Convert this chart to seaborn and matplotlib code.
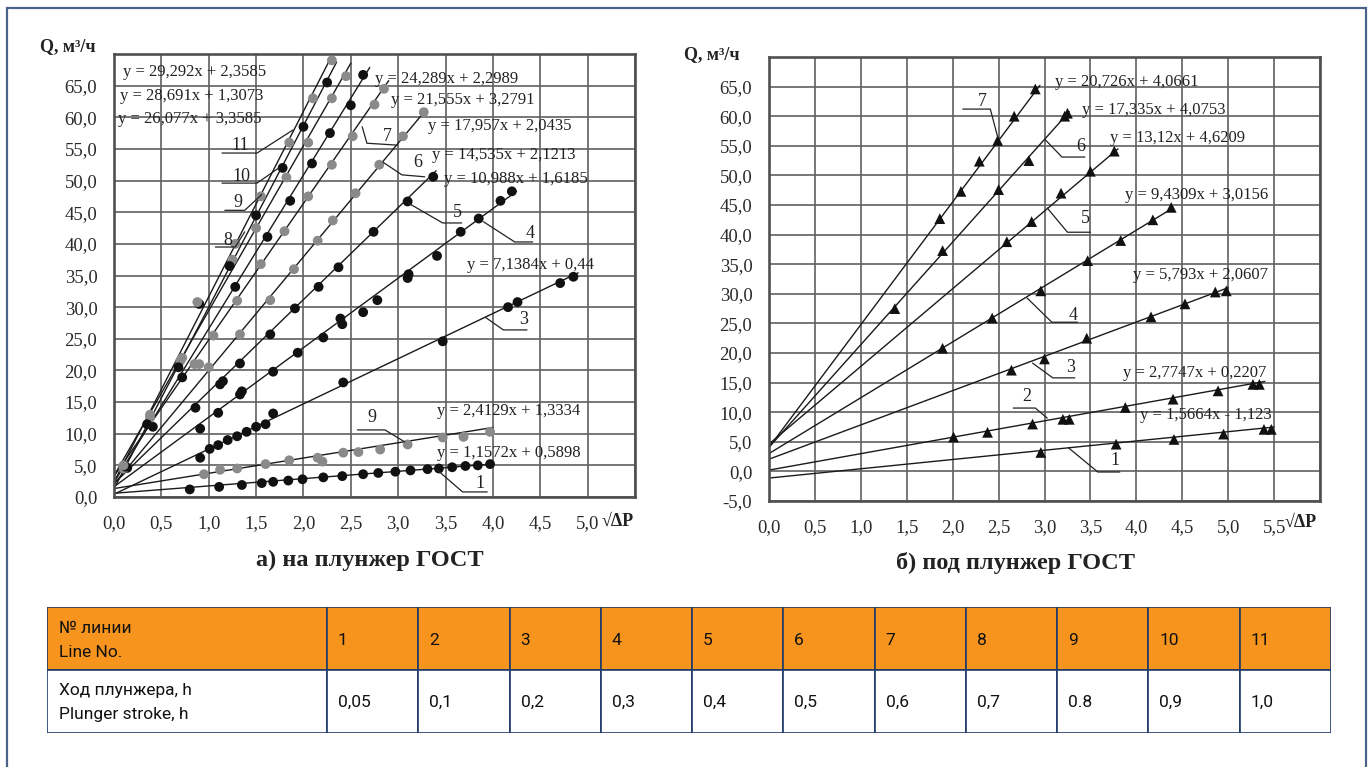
import numpy as np
import pandas as pd
import matplotlib
matplotlib.use("Agg")
import matplotlib.pyplot as plt
import seaborn as sns
from matplotlib.patches import Rectangle
from matplotlib.ticker import FuncFormatter

# ---------------- data: (a) на плунжер ГОСТ ----------------
a_slopes = [1.1572, 2.4129, 7.1384, 10.988, 14.535, 17.957, 21.555, 24.289, 26.077, 28.691, 29.292]
a_inter = [0.5898, 1.3334, 0.44, 1.6185, 2.1213, 2.0435, 3.2791, 2.2989, 3.3585, 1.3073, 2.3585]
a_eq_text = ["y = 1,1572x + 0,5898", "y = 2,4129x + 1,3334", "y = 7,1384x + 0,44",
             "y = 10,988x + 1,6185", "y = 14,535x + 2,1213", "y = 17,957x + 2,0435",
             "y = 21,555x + 3,2791", "y = 24,289x + 2,2989", "y = 26,077x + 3,3585",
             "y = 28,691x + 1,3073", "y = 29,292x + 2,3585"]
a_xend = [4.0, 4.0, 4.9, 4.25, 3.4, 3.3, 2.9, 2.7, 2.5, 2.35, 2.3]

a1_x = [0.8, 1.11, 1.35, 1.56, 1.68, 1.84, 1.99, 2.21, 2.41, 2.63, 2.79, 2.97, 3.13, 3.31, 3.43, 3.57, 3.71, 3.84, 3.97]
a1_y = [1.2, 1.6, 1.9, 2.2, 2.4, 2.6, 2.8, 3.1, 3.3, 3.6, 3.8, 4.0, 4.2, 4.4, 4.5, 4.7, 4.9, 5.0, 5.2]
a2_x = [0.95, 1.12, 1.3, 1.6, 1.85, 2.15, 2.2, 2.42, 2.58, 2.81, 3.1, 3.47, 3.69, 3.97]
a2_y = [3.6, 4.3, 4.5, 5.2, 5.8, 6.2, 5.6, 7.0, 7.1, 7.5, 8.3, 9.4, 9.5, 10.3]
a3_x = [0.91, 1.01, 1.1, 1.2, 1.3, 1.4, 1.5, 1.6, 1.68, 2.42, 3.47, 4.16, 4.26, 4.71, 4.85]
a3_y = [6.2, 7.6, 8.2, 9.0, 9.6, 10.3, 11.1, 11.5, 13.2, 18.1, 24.6, 30.0, 30.8, 33.8, 34.8]
a4_x = [0.91, 1.1, 1.33, 1.35, 1.68, 1.94, 2.21, 2.39, 2.41, 2.63, 2.78, 3.1, 3.11, 3.41, 3.66, 3.85, 4.08, 4.2]
a4_y = [10.8, 13.3, 16.2, 16.7, 19.8, 22.8, 25.2, 28.2, 27.3, 29.2, 31.1, 34.6, 35.2, 38.1, 41.9, 44.0, 46.8, 48.3]
a5_x = [0.86, 1.12, 1.15, 1.33, 1.65, 1.91, 2.16, 2.37, 2.74, 3.1, 3.37]
a5_y = [14.1, 17.8, 18.3, 21.1, 25.7, 29.8, 33.2, 36.3, 41.9, 46.7, 50.6]
a6_x = [1.0, 1.33, 1.65, 1.9, 2.15, 2.31, 2.55, 2.8, 3.05, 3.27]
a6_y = [20.5, 25.7, 31.1, 36.0, 40.5, 43.7, 48.0, 52.5, 57.0, 60.8]
a7_x = [0.85, 1.05, 1.3, 1.55, 1.8, 2.05, 2.3, 2.52, 2.75, 2.85]
a7_y = [21.0, 25.5, 31.0, 36.8, 42.0, 47.5, 52.5, 57.0, 62.0, 64.5]
a8_x = [0.14, 0.41, 0.72, 1.28, 1.62, 1.86, 2.09, 2.28, 2.5, 2.63]
a8_y = [4.6, 11.1, 18.9, 33.2, 41.1, 46.8, 52.7, 57.5, 61.9, 66.7]
a9_x = [0.1, 0.38, 0.7, 0.9, 1.25, 1.5, 1.82, 2.05, 2.3, 2.45]
a9_y = [4.5, 12.5, 21.5, 21.0, 37.5, 42.5, 50.5, 56.0, 63.0, 66.5]
a10_x = [0.12, 0.35, 0.68, 0.9, 1.22, 1.5, 1.78, 2.0, 2.25]
a10_y = [4.8, 11.5, 20.5, 30.5, 36.5, 44.5, 52.0, 58.5, 65.5]
a11_x = [0.1, 0.38, 0.72, 0.88, 1.28, 1.55, 1.85, 2.1, 2.3]
a11_y = [5.0, 13.0, 22.0, 30.8, 40.0, 47.5, 56.0, 63.0, 69.0]
a_pts_x = [a1_x, a2_x, a3_x, a4_x, a5_x, a6_x, a7_x, a8_x, a9_x, a10_x, a11_x]
a_pts_y = [a1_y, a2_y, a3_y, a4_y, a5_y, a6_y, a7_y, a8_y, a9_y, a10_y, a11_y]
a_dark = [True, False, True, True, True, False, False, True, False, True, False]

# ---------------- data: (б) под плунжер ГОСТ ----------------
b_slopes = [1.5664, 2.7747, 5.793, 9.4309, 13.12, 17.335, 20.726]
b_inter = [-1.123, 0.2207, 2.0607, 3.0156, 4.6209, 4.0753, 4.0661]
b_eq_text = ["y = 1,5664x - 1,123", "y = 2,7747x + 0,2207", "y = 5,793x + 2,0607",
             "y = 9,4309x + 3,0156", "y = 13,12x + 4,6209", "y = 17,335x + 4,0753",
             "y = 20,726x + 4,0661"]
b_xend = [5.5, 5.4, 5.0, 4.4, 3.8, 3.27, 2.95]
b1_x = [2.96, 3.78, 4.41, 4.95, 5.39, 5.47]
b1_y = [3.2, 4.6, 5.4, 6.3, 7.1, 7.1]
b2_x = [2.01, 2.38, 2.87, 3.2, 3.27, 3.88, 4.4, 4.89, 5.27, 5.34]
b2_y = [5.8, 6.6, 8.0, 8.8, 8.8, 10.8, 12.2, 13.6, 14.7, 14.7]
b3_x = [2.64, 3.0, 3.46, 4.16, 4.53, 4.86, 4.98]
b3_y = [17.1, 19.0, 22.5, 26.1, 28.3, 30.3, 30.5]
b4_x = [1.89, 2.43, 2.96, 3.47, 3.83, 4.18, 4.38]
b4_y = [20.8, 25.9, 30.5, 35.6, 39.0, 42.5, 44.6]
b5_x = [2.59, 2.86, 3.18, 3.5, 3.76]
b5_y = [38.8, 42.2, 47.0, 50.7, 54.1]
b6_x = [1.37, 1.89, 2.5, 2.83, 3.22, 3.25]
b6_y = [27.5, 37.3, 47.6, 52.5, 60.0, 60.5]
b7_x = [1.86, 2.09, 2.29, 2.49, 2.67, 2.9]
b7_y = [42.7, 47.3, 52.4, 55.9, 60.0, 64.6]
b_pts_x = [b1_x, b2_x, b3_x, b4_x, b5_x, b6_x, b7_x]
b_pts_y = [b1_y, b2_y, b3_y, b4_y, b5_y, b6_y, b7_y]

# ---------------- table ----------------
tbl_head = ["№ линии\nLine No.", "1", "2", "3", "4", "5", "6", "7", "8", "9", "10", "11"]
tbl_row = ["Ход плунжера, h\nPlunger stroke, h", "0,05", "0,1", "0,2", "0,3", "0,4", "0,5",
           "0,6", "0,7", "0.8", "0,9", "1,0"]

# ---------------- figure ----------------
sns.set_theme(style="white")
plt.rcParams["font.family"] = ["Liberation Serif", "DejaVu Serif"]
W, H = 1370, 767
fig = plt.figure(figsize=(W / 100, H / 100), dpi=100)
fig.patch.set_facecolor("white")

def fr(x0, y0, x1, y1):
    return [x0 / W, 1 - y1 / H, (x1 - x0) / W, (y1 - y0) / H]

axA = fig.add_axes(fr(114, 54, 635, 497))
axB = fig.add_axes(fr(769, 57, 1320, 501))

def line_frame(slopes, inter, xend):
    rows = []
    for i, (k, b, xe) in enumerate(zip(slopes, inter, xend)):
        for xv in (0.0, xe):
            rows.append({"x": xv, "y": k * xv + b, "line": i + 1})
    return pd.DataFrame(rows)

def pts_frame(xs, ys):
    rows = []
    for i, (xx, yy) in enumerate(zip(xs, ys)):
        for xv, yv in zip(xx, yy):
            rows.append({"x": xv, "y": yv, "line": i + 1})
    return pd.DataFrame(rows)

def style_axes(ax, xmax, ymin, ymax, xtick_max):
    ax.set_xlim(0, xmax)
    ax.set_ylim(ymin, ymax)
    ax.set_xticks(np.arange(0, xmax + 0.01, 0.5))
    ax.set_yticks(np.arange(ymin, ymax + 0.01, 5))
    ax.xaxis.set_major_formatter(FuncFormatter(
        lambda v, p: f"{v:.1f}".replace(".", ",") if v <= xtick_max + 1e-6 else ""))
    ax.yaxis.set_major_formatter(FuncFormatter(
        lambda v, p: f"{v:.1f}".replace(".", ",") if v <= 65.01 else ""))
    ax.grid(True, color="#606060", lw=1.2)
    ax.set_axisbelow(True)
    for s in ax.spines.values():
        s.set_color("#505050")
        s.set_linewidth(1.9)
    ax.tick_params(length=0, labelsize=13.5, labelcolor="#2a2a2a")
    ax.tick_params(axis="x", pad=13)
    ax.tick_params(axis="y", pad=12)
    ax.set_xlabel("")
    ax.set_ylabel("")

# ---- panel a ----
dfLa = line_frame(a_slopes, a_inter, a_xend)
sns.lineplot(data=dfLa, x="x", y="y", units="line", estimator=None, color="#1a1a1a",
             lw=1.0, ax=axA, legend=False)
dfPa = pts_frame(a_pts_x, a_pts_y)
pal_a = {i + 1: ("#111111" if d else "#8a8a8a") for i, d in enumerate(a_dark)}
sns.scatterplot(data=dfPa, x="x", y="y", hue="line", palette=pal_a, s=50,
                edgecolor="none", ax=axA, legend=False, zorder=3)
style_axes(axA, 5.5, 0, 70, 5.0)

a_eq_pos = [(3.41, 7.0), (3.41, 13.6), (3.73, 36.7), (3.48, 50.2), (3.36, 54.0),
            (3.32, 58.7), (2.92, 62.8), (2.76, 66.1), (0.04, 59.8), (0.063, 63.4), (0.095, 67.2)]
for t, (xx, yy) in zip(a_eq_text, a_eq_pos):
    axA.text(xx, yy, t, fontsize=12, ha="left", va="center", color="#222222", zorder=4)

a_leaders = [("11", (1.33, 55.6), [(1.14, 54.35), (1.51, 54.35), (1.89, 58.0)]),
             ("10", (1.35, 50.6), [(1.14, 49.6), (1.51, 49.6), (1.75, 52.1)]),
             ("9", (1.31, 46.6), [(1.17, 45.3), (1.38, 45.3), (1.56, 47.8)]),
             ("8", (1.20, 40.6), [(1.07, 39.5), (1.28, 39.5), (1.38, 41.9)]),
             ("7", (2.88, 56.9), [(2.62, 58.5), (2.67, 55.9), (2.99, 55.6)]),
             ("6", (3.21, 52.8), [(2.84, 52.9), (3.04, 50.9), (3.28, 50.6)]),
             ("5", (3.63, 45.0), [(3.10, 46.5), (3.47, 43.3), (3.67, 43.3)]),
             ("4", (4.39, 41.7), [(3.90, 43.5), (4.23, 40.3), (4.42, 40.3)]),
             ("3", (4.32, 28.0), [(3.92, 28.4), (4.11, 26.4), (4.36, 26.4)]),
             ("9", (2.72, 12.6), [(2.57, 10.6), (2.86, 10.6), (3.07, 8.7)]),
             ("1", (3.86, 2.2), [(3.41, 4.3), (3.68, 0.8), (3.94, 0.8)])]

# ---- panel b ----
dfLb = line_frame(b_slopes, b_inter, b_xend)
sns.lineplot(data=dfLb, x="x", y="y", units="line", estimator=None, color="#1a1a1a",
             lw=1.0, ax=axB, legend=False)
dfPb = pts_frame(b_pts_x, b_pts_y)
sns.scatterplot(data=dfPb, x="x", y="y", color="#111111", marker="^", s=60,
                edgecolor="none", ax=axB, legend=False, zorder=3)
style_axes(axB, 6.0, -5, 70, 5.5)

b_eq_pos = [(4.04, 9.5), (3.85, 16.6), (3.96, 33.2), (3.88, 46.7), (3.71, 56.3),
            (3.41, 61.0), (3.11, 65.8)]
for t, (xx, yy) in zip(b_eq_text, b_eq_pos):
    axB.text(xx, yy, t, fontsize=12, ha="left", va="center", color="#222222", zorder=4)

b_leaders = [("7", (2.32, 62.4), [(2.11, 61.2), (2.41, 61.2), (2.49, 56.5)]),
             ("6", (3.39, 54.8), [(3.01, 56.0), (3.19, 53.1), (3.44, 53.1)]),
             ("5", (3.45, 42.8), [(3.03, 44.5), (3.25, 40.4), (3.50, 40.4)]),
             ("4", (3.31, 26.4), [(2.81, 29.3), (3.08, 25.2), (3.36, 25.2)]),
             ("3", (3.28, 17.5), [(2.87, 18.3), (3.09, 15.8), (3.33, 15.8)]),
             ("2", (2.81, 12.6), [(2.66, 10.7), (2.90, 10.7), (3.03, 9.0)]),
             ("1", (3.77, 1.9), [(3.26, 4.0), (3.58, -0.1), (3.82, -0.1)])]

for ax, leaders in ((axA, a_leaders), (axB, b_leaders)):
    for lab, (tx, ty), path in leaders:
        px, py = zip(*path)
        ax.plot(px, py, color="#222222", lw=0.9, zorder=4)
        ax.text(tx, ty, lab, fontsize=13, ha="center", va="center", color="#222222", zorder=4)

# axis labels and captions
fig.text(40 / W, 1 - 47 / H, "Q, м³/ч", fontsize=13, fontweight="bold", ha="left", va="center", color="#222")
fig.text(684 / W, 1 - 55 / H, "Q, м³/ч", fontsize=13, fontweight="bold", ha="left", va="center", color="#222")
fig.text(602 / W, 1 - 521 / H, "√ΔP", fontsize=13, fontweight="bold", ha="left", va="center", color="#222")
fig.text(1285 / W, 1 - 522 / H, "√ΔP", fontsize=13, fontweight="bold", ha="left", va="center", color="#222")
fig.text(370 / W, 1 - 560 / H, "а) на плунжер ГОСТ", fontsize=17.5, fontweight="bold",
         ha="center", va="center", color="#222")
fig.text(1016 / W, 1 - 563 / H, "б) под плунжер ГОСТ", fontsize=17.5, fontweight="bold",
         ha="center", va="center", color="#222")

# ---- table ----
axT = fig.add_axes(fr(47, 607, 1331, 733))
axT.set_xlim(47, 1331)
axT.set_ylim(733, 607)
axT.axis("off")
edges = [47, 327] + [327 + 91.27 * k for k in range(1, 12)]
navy = "#1f3a68"
tfont = ["Roboto", "DejaVu Sans"]

def cell_text(x, yc, txt, line_gap):
    parts = txt.split("\n")
    n = len(parts)
    for i, p in enumerate(parts):
        yy = yc + (i - (n - 1) / 2) * line_gap
        axT.text(x, yy + 5, p, fontsize=12.5, ha="left", va="baseline", family=tfont, color="#111")

for j in range(len(edges) - 1):
    x0, x1 = edges[j], edges[j + 1]
    axT.add_patch(Rectangle((x0, 607), x1 - x0, 63, facecolor="#F7941E", edgecolor=navy, lw=1.2))
    axT.add_patch(Rectangle((x0, 670), x1 - x0, 63, facecolor="white", edgecolor=navy, lw=1.2))
    pad = 12 if j == 0 else 11
    cell_text(x0 + pad, 640, tbl_head[j], 24)
    cell_text(x0 + pad, 702, tbl_row[j], 23)

# outer frame
fig.add_artist(Rectangle((7 / W, -0.01), (1366 - 7) / W, 1.01 - 8 / H, transform=fig.transFigure,
                         fill=False, edgecolor="#4a6388", lw=1.6))

fig.savefig("out.png", dpi=100, facecolor="white")
